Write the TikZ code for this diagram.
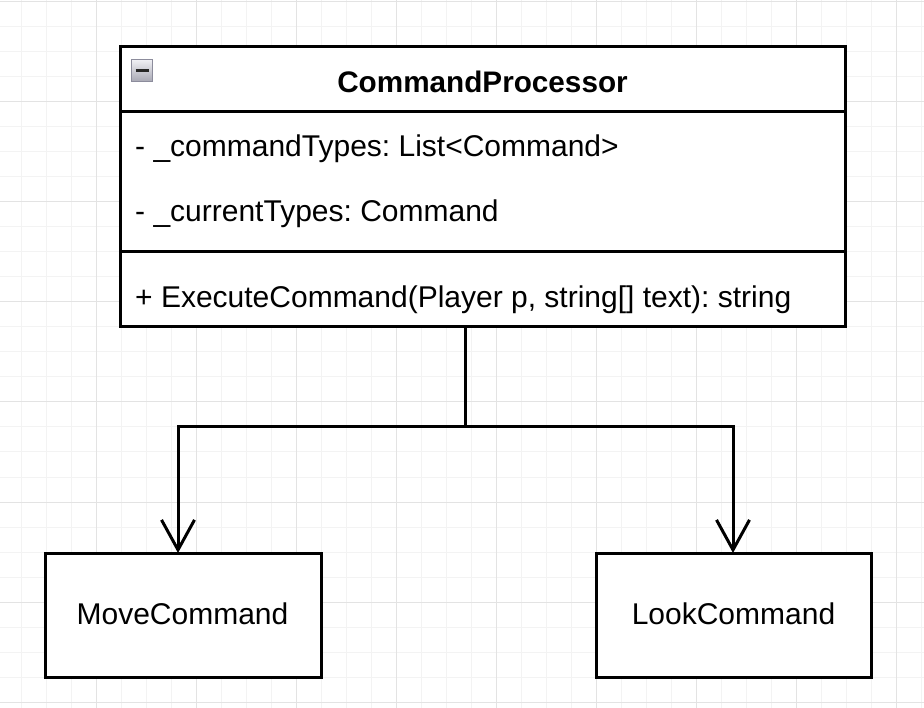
\documentclass[tikz,border=0pt]{standalone}
\usepackage{fontspec}
\setmainfont{Liberation Sans}
\frenchspacing
\definecolor{gminor}{HTML}{F3F3F3}
\definecolor{gmajor}{HTML}{E3E3E3}
\definecolor{iconedge}{HTML}{8C8C9C}
\definecolor{icontop}{HTML}{F0F0F4}
\definecolor{iconbot}{HTML}{A8A8B4}
\tikzset{
  minorline/.style={draw=gminor, line width=1pt},
  majorline/.style={draw=gmajor, line width=1pt},
  umlbox/.style={draw=black, fill=white, line width=3pt, rectangle, inner sep=0pt, outer sep=0pt},
  txt/.style={font=\fontsize{30}{36}\selectfont, inner sep=0pt, anchor=base west},
  ttl/.style={font=\fontsize{29.7}{36}\selectfont\bfseries, inner sep=0pt, anchor=base},
  ctxt/.style={font=\fontsize{30}{36}\selectfont, inner sep=0pt, anchor=base},
  conn/.style={draw=black, line width=3pt},
  openarrow/.style={conn, -{Straight Barb[length=30pt, width=33pt, line width=3pt]}},
}
\usetikzlibrary{arrows.meta}
\begin{document}
\begin{tikzpicture}[x=1pt,y=-1pt]
\useasboundingbox (0,0) rectangle (924,708);
\fill[white] (0,0) rectangle (924,708);
% grid
\foreach \gx in {21,46,...,921} \draw[minorline] (\gx,0) -- (\gx,708);
\foreach \gy in {2,27,...,707} \draw[minorline] (0,\gy) -- (924,\gy);
\foreach \gx in {96,196,...,896} \draw[majorline] (\gx,0) -- (\gx,708);
\foreach \gy in {2,102,...,702} \draw[majorline] (0,\gy) -- (924,\gy);

% class CommandProcessor
\node[umlbox, anchor=north west, minimum width=725pt, minimum height=65pt] (head) at (120,47) {};
\node[umlbox, anchor=north west, minimum width=725pt, minimum height=140pt] (attrs) at (120,112) {};
\node[umlbox, anchor=north west, minimum width=725pt, minimum height=75pt] (meths) at (120,252) {};
\node[ttl] (title) at (482.5,93) {CommandProcessor};
\node[txt] (a1) at (135,157) {- \_commandTypes: List<Command>};
\node[txt] (a2) at (135,222) {- \_currentTypes: Command};
\node[txt] (m1) at (135,308) {+ ExecuteCommand(Player p, string[] text): string};

% collapse icon
\node[draw=iconedge, line width=1.5pt, top color=icontop, bottom color=iconbot,
      minimum width=21pt, minimum height=22pt, inner sep=0pt, outer sep=0pt] (icon) at (142,70.5) {};
\draw[line width=2.5pt, black!85] ([xshift=-6.5pt]icon.center) -- ([xshift=6.5pt]icon.center);

% subclasses
\node[umlbox, anchor=north west, minimum width=276pt, minimum height=124pt] (move) at (45,553) {};
\node[ctxt] at (182.5,624) {MoveCommand};
\node[umlbox, anchor=north west, minimum width=275pt, minimum height=124pt] (look) at (596,553) {};
\node[ctxt] at (733.5,624) {LookCommand};

% connectors
\coordinate (j) at (465,427);
\coordinate (mt) at (178,553);
\coordinate (lt) at (733,553);
\draw[conn] (meths.south -| j) -- (j);
\draw[openarrow] (j) -| (mt);
\draw[openarrow] (j) -| (lt);
\end{tikzpicture}
\end{document}
